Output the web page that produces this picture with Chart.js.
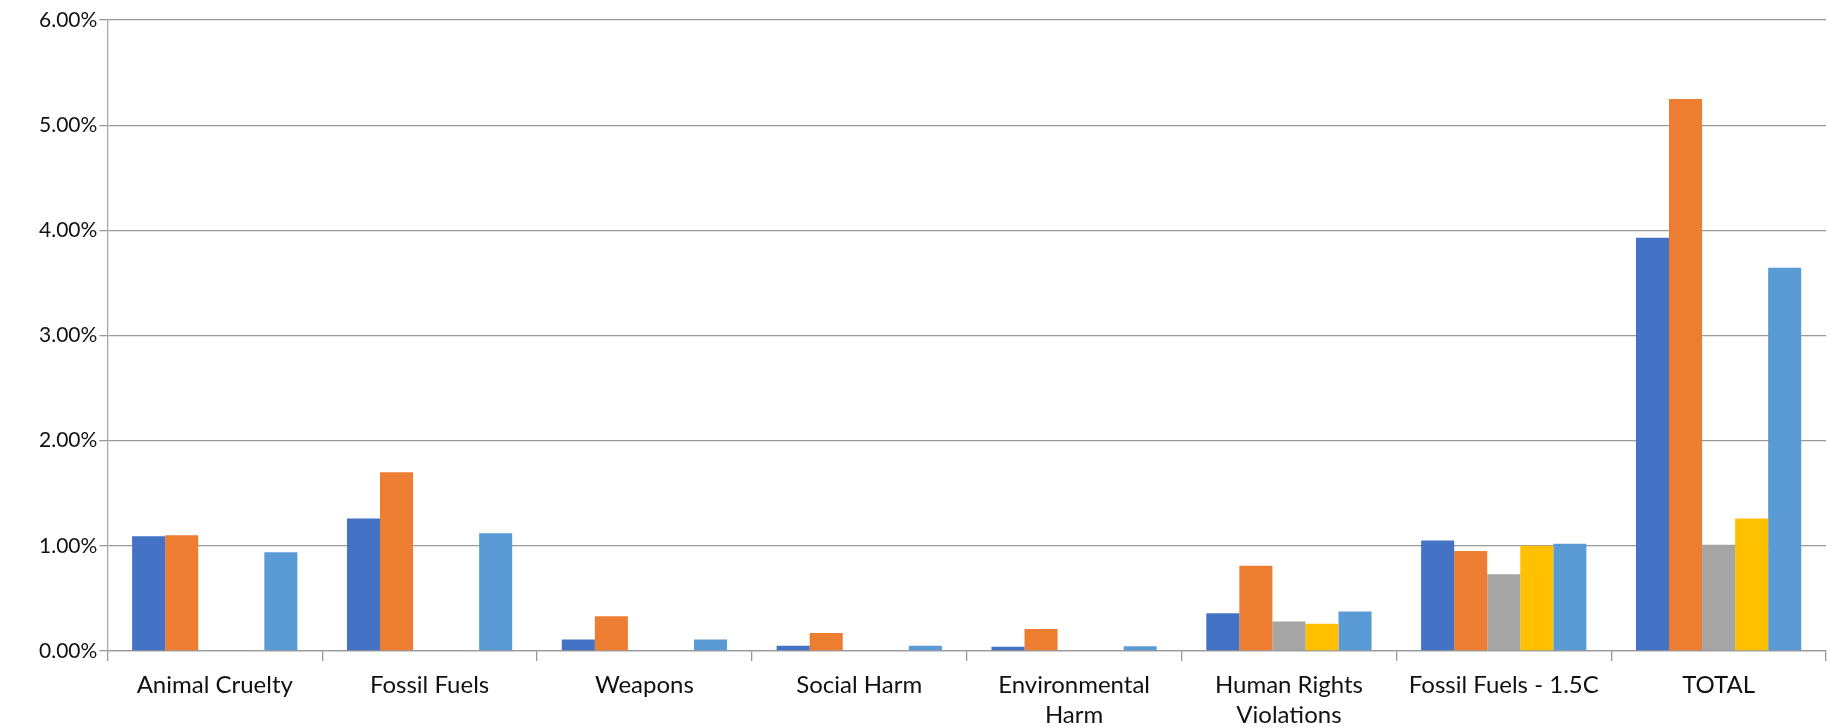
<!DOCTYPE html>
<html>
<head>
<meta charset="utf-8">
<script src="https://cdn.jsdelivr.net/npm/chart.js@4.4.0/dist/chart.umd.min.js"></script>
<style>
  html, body { margin: 0; padding: 0; background: #ffffff; }
  #wrap { width: 1828px; height: 727px; }
</style>
</head>
<body>
<div id="wrap"><canvas id="c" width="1828" height="727"></canvas></div>
<script>
const categories = [
  "Animal Cruelty",
  "Fossil Fuels",
  "Weapons",
  "Social Harm",
  ["Environmental", "Harm"],
  ["Human Rights", "Violations"],
  "Fossil Fuels - 1.5C",
  "TOTAL"
];
const seriesNames = ["Series 1", "Series 2", "Series 3", "Series 4", "Series 5"];
const series1 = [1.09, 1.26, 0.11, 0.05, 0.04, 0.36, 1.05, 3.93];
const series2 = [1.10, 1.70, 0.33, 0.17, 0.21, 0.81, 0.95, 5.25];
const series3 = [0, 0, 0, 0, 0, 0.28, 0.73, 1.01];
const series4 = [0, 0, 0, 0, 0, 0.26, 1.00, 1.26];
const series5 = [0.94, 1.12, 0.11, 0.05, 0.045, 0.375, 1.02, 3.645];
const yTicks = [0, 1, 2, 3, 4, 5, 6];

const colors = ["#4472C4", "#ED7D31", "#A5A5A5", "#FFC000", "#5B9BD5"];
const allSeries = [series1, series2, series3, series4, series5];

const FONT = "Lato, 'Open Sans', sans-serif";

new Chart(document.getElementById("c"), {
  type: "bar",
  data: {
    labels: categories,
    datasets: allSeries.map((d, i) => ({
      label: seriesNames[i],
      data: d,
      backgroundColor: colors[i],
      borderWidth: 0,
      categoryPercentage: 5 / 6.5,
      barPercentage: 1.0
    }))
  },
  options: {
    responsive: false,
    animation: false,
    devicePixelRatio: 1,
    layout: { padding: { left: 37, right: 2, top: 20, bottom: -12 } },
    plugins: { legend: { display: false }, tooltip: { enabled: false } },
    scales: {
      x: {
        grid: {
          offset: true,
          drawOnChartArea: false,
          drawTicks: true,
          tickLength: 10,
          color: "#999999",
          lineWidth: 1.3
        },
        border: { color: "#999999", width: 1.3 },
        ticks: {
          color: "#111111",
          font: { family: FONT, size: 24, lineHeight: 1.25 },
          padding: 9,
          maxRotation: 0,
          autoSkip: false
        }
      },
      y: {
        min: 0,
        max: 6,
        afterBuildTicks: (axis) => { axis.ticks = yTicks.map(v => ({ value: v })); },
        grid: {
          color: "#999999",
          lineWidth: 1.3,
          drawTicks: true,
          tickLength: 8
        },
        border: { color: "#aaaaaa", width: 1.3 },
        ticks: {
          color: "#111111",
          font: { family: FONT, size: 21 },
          padding: 2,
          callback: (v) => Number(v).toFixed(2) + "%"
        }
      }
    }
  }
});
</script>
</body>
</html>
